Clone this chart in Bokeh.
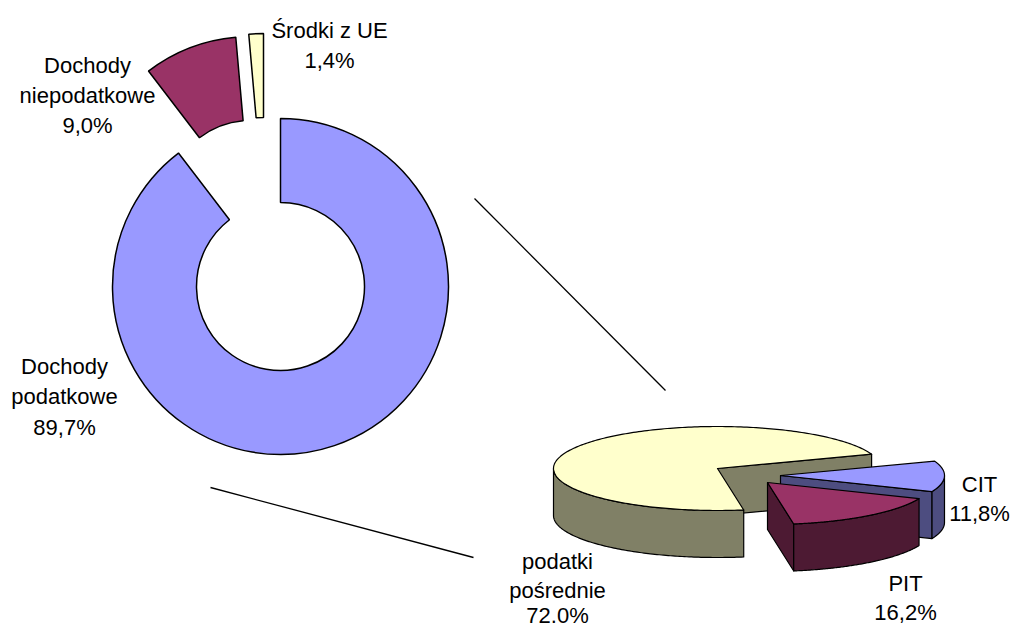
import numpy as np
from bokeh.plotting import figure
from bokeh.models import Range1d, ColumnDataSource
from bokeh.core.properties import value
from bokeh.embed import file_html
from bokeh.resources import INLINE

# ---------------- data ----------------
donut_names = ["Dochody podatkowe", "Dochody niepodatkowe", "Środki z UE"]
donut_lines = [["Dochody", "podatkowe"], ["Dochody", "niepodatkowe"], ["Środki z UE"]]
donut_values = [89.7, 9.0, 1.4]
donut_pct_text = ["89,7%", "9,0%", "1,4%"]
donut_colors = ["#9999FF", "#993366", "#FFFFCC"]

sub_names = ["podatki pośrednie", "PIT", "CIT"]
sub_lines = [["podatki", "pośrednie"], ["PIT"], ["CIT"]]
sub_values = [72.0, 16.2, 11.8]
sub_pct_text = ["72.0%", "16,2%", "11,8%"]
sub_top_colors = ["#FFFFCC", "#993366", "#9999FF"]
sub_side_colors = ["#808066", "#4D1A33", "#4D4D80"]

# ---------------- layout ----------------
W, H = 1015, 628
def sy(y):
    return H - np.asarray(y, dtype=float)

p = figure(width=W, height=H, x_range=Range1d(0, W), y_range=Range1d(0, H),
           output_backend="svg", toolbar_location=None, min_border=0)
p.axis.visible = False
p.grid.visible = False
p.outline_line_color = None
p.background_fill_color = "white"
p.border_fill_color = "white"

FONT = value("Liberation Sans")
FS = "22px"

# ---------------- donut ----------------
dcx, dcy = 280, 286
r_in, r_out = 84, 168
explode = [(0, 0), (-30, 82), (-17, 85)]  # data units (y up)
tot = sum(donut_values)
cum = np.concatenate([[0], np.cumsum(donut_values)]) / tot * 360.0
starts = np.radians(90 - cum[:-1])
ends = np.radians(90 - cum[1:])
src = ColumnDataSource(dict(
    x=[dcx + e[0] for e in explode],
    y=[float(sy(dcy)) + e[1] for e in explode],
    start=starts, end=ends, color=donut_colors, name=donut_names))
p.annular_wedge(x="x", y="y", inner_radius=r_in, outer_radius=r_out,
                start_angle="start", end_angle="end",
                direction="clock", fill_color="color", line_color="black",
                line_width=1.5, source=src)

# ---------------- connector lines ----------------
p.line(x=[474, 665], y=sy([198, 390]), line_color="black", line_width=1.3)
p.line(x=[210, 473], y=sy([487, 557]), line_color="black", line_width=1.3)

# ---------------- 3D pie ----------------
pcx, pcy, prx, pry, depth = 717, 468, 164, 42, 47
offsets = [(0, 0), (50, 14), (63, 7)]  # screen px
start_deg = 20.0
stot = sum(sub_values)
scum = np.concatenate([[0], np.cumsum(sub_values)]) / stot * 360.0
ranges = [(start_deg + scum[i], start_deg + scum[i + 1]) for i in range(len(sub_values))]

def P(theta, h, off):
    t = np.radians(theta)
    x = pcx + prx * np.cos(t) + off[0]
    ys = pcy - pry * np.sin(t) + off[1] + h
    return np.atleast_1d(x), np.atleast_1d(sy(ys))

def apex(h, off):
    return np.array([pcx + off[0]], dtype=float), np.atleast_1d(sy(pcy + off[1] + h))

def patch(xs, ys, color):
    p.patch(x=list(xs), y=list(ys), fill_color=color, line_color="black",
            line_width=1.2, line_join="round")

def cut_face(theta, off, color):
    ax0, ay0 = apex(0, off)
    ax1, ay1 = apex(depth, off)
    rx0, ry0 = P(theta, 0, off)
    rx1, ry1 = P(theta, depth, off)
    patch(np.concatenate([ax0, rx0, rx1, ax1]), np.concatenate([ay0, ry0, ry1, ay1]), color)

for i in [0, 2, 1]:
    a, b = ranges[i]
    off = offsets[i]
    side = sub_side_colors[i]
    if np.cos(np.radians(a)) > 0:
        cut_face(a, off, side)
    if np.cos(np.radians(b)) < 0:
        cut_face(b, off, side)
    # outer front wall
    for k in range(-1, 2):
        lo = max(a, k * 360 + 180)
        hi = min(b, k * 360 + 360)
        if hi > lo:
            th = np.linspace(lo, hi, 120)
            tx, ty = P(th, 0, off)
            bx, by = P(th[::-1], depth, off)
            patch(np.concatenate([tx, bx]), np.concatenate([ty, by]), side)
    # top face
    th = np.linspace(a, b, 240)
    tx, ty = P(th, 0, off)
    ax0, ay0 = apex(0, off)
    patch(np.concatenate([ax0, tx]), np.concatenate([ay0, ty]), sub_top_colors[i])

# ---------------- labels ----------------
def label(x, mids, lines):
    p.text(x=[x] * len(lines), y=list(sy(mids)), text=lines,
           text_align="center", text_baseline="middle", text_font=FONT,
           text_font_size=FS, text_color="black")

label(64, [366, 396, 427], donut_lines[0] + [donut_pct_text[0]])
label(87, [65, 95, 125], donut_lines[1] + [donut_pct_text[1]])
label(329, [30, 60], donut_lines[2] + [donut_pct_text[2]])
label(557, [561, 590, 615], sub_lines[0] + [sub_pct_text[0]])
label(905, [583, 612], sub_lines[1] + [sub_pct_text[1]])
label(979, [484, 513], sub_lines[2] + [sub_pct_text[2]])

open("out.html", "w").write(file_html(p, INLINE))
